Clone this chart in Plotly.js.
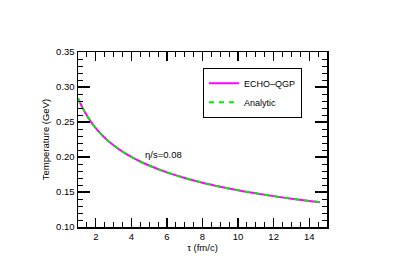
<!DOCTYPE html>
<html>
<head>
<meta charset="utf-8">
<script src="https://cdn.plot.ly/plotly-3.0.1.min.js"></script>
<style>html,body{margin:0;padding:0;background:#fff;}#chart{width:405px;height:278px;}</style>
</head>
<body>
<div id="chart"></div>
<script>
const tau = [1.0, 1.25, 1.5, 1.75, 2.0, 2.5, 3.0, 3.5, 4.0, 4.5, 5.0, 6.0, 7.0, 8.0, 9.0, 10.0, 11.0, 12.0, 13.0, 14.0, 14.6];
const tEcho = [0.284, 0.2705, 0.2592, 0.2495, 0.2412, 0.2275, 0.2167, 0.2078, 0.2002, 0.1936, 0.1878, 0.1780, 0.1700, 0.1632, 0.1575, 0.1525, 0.1481, 0.1441, 0.1405, 0.1373, 0.1355];
const tAnalytic = tEcho.slice();
const seriesNames = ["ECHO\u2013QGP", "Analytic"];
const annotationText = "\u03b7/s=0.08";

const font = {family: "Liberation Sans, Arial, sans-serif", size: 9.5, color: "#000"};
const legFont = {family: "Liberation Sans, Arial, sans-serif", size: 9, color: "#000"};

const traces = [
  {x: tau, y: tEcho, name: seriesNames[0], mode: "lines", line: {color: "#ff00ff", width: 2, shape: "spline", smoothing: 1}},
  {x: tau, y: tAnalytic, name: seriesNames[1], mode: "lines", line: {color: "#00ee00", width: 2, dash: "5px,5px", shape: "spline", smoothing: 1}}
];

const axisCommon = {
  showgrid: false, zeroline: false, showline: true, linecolor: "#000", linewidth: 1.5,
  mirror: "allticks", ticks: "inside", tickcolor: "#000", tickwidth: 1.2,
  tickfont: font
};

const layout = {
  width: 405, height: 278,
  margin: {l: 78, r: 78, t: 52, b: 51},
  paper_bgcolor: "#fff", plot_bgcolor: "#fff",
  font: font,
  showlegend: true,
  legend: {x: 0.502, y: 0.91, xanchor: "left", yanchor: "top", bordercolor: "#000", borderwidth: 1,
           bgcolor: "#fff", font: legFont, itemwidth: 30, tracegroupgap: 0},
  xaxis: Object.assign({}, axisCommon, {
    range: [1, 15], tickvals: [2, 4, 6, 8, 10, 12, 14], ticklen: 9,
    minor: {dtick: 0.5, tick0: 0, ticklen: 5, ticks: "inside", tickcolor: "#000", tickwidth: 1},
    title: {text: "\u03c4 (fm/c)", font: font, standoff: 3}
  }),
  yaxis: Object.assign({}, axisCommon, {
    range: [0.10, 0.35], tickvals: [0.10, 0.15, 0.20, 0.25, 0.30, 0.35], tickformat: ".2f", ticklen: 12,
    minor: {dtick: 0.01, tick0: 0, ticklen: 5, ticks: "inside", tickcolor: "#000", tickwidth: 1},
    title: {text: "Temperature (GeV)", font: font, standoff: 5}
  }),
  annotations: [{x: 5.8, y: 0.204, xref: "x", yref: "y", text: annotationText, showarrow: false, font: font}]
};

Plotly.newPlot("chart", traces, layout, {displayModeBar: false, staticPlot: true});
</script>
</body>
</html>
